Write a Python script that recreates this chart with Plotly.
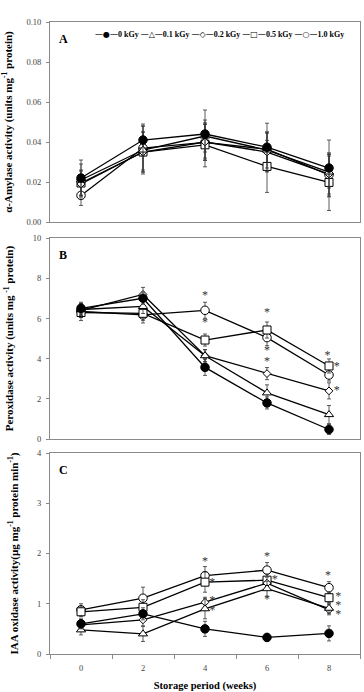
import plotly.graph_objects as go

weeks = [0, 2, 4, 6, 8]
doses = ["0 kGy", "0.1 kGy", "0.2 kGy", "0.5 kGy", "1.0 kGy"]
legend_glyphs = ["\u25cf", "\u25b3", "\u25c7", "\u25a1", "\u25cb"]

# Panel A: alpha-amylase activity
amylase_mean = [
    [0.022, 0.041, 0.044, 0.0374, 0.027],
    [0.021, 0.036, 0.043, 0.036, 0.025],
    [0.019, 0.035, 0.040, 0.035, 0.024],
    [0.0195, 0.035, 0.0386, 0.0278, 0.0198],
    [0.0133, 0.037, 0.0398, 0.0364, 0.0236],
]
amylase_err = [
    [0.009, 0.008, 0.012, 0.012, 0.014],
    [0.008, 0.012, 0.008, 0.009, 0.008],
    [0.007, 0.010, 0.009, 0.010, 0.010],
    [0.006, 0.010, 0.011, 0.013, 0.014],
    [0.005, 0.011, 0.009, 0.008, 0.011],
]

# Panel B: peroxidase activity
perox_mean = [
    [6.51, 7.01, 3.57, 1.80, 0.48],
    [6.45, 6.60, 4.15, 2.30, 1.22],
    [6.40, 7.20, 4.15, 3.26, 2.40],
    [6.30, 6.26, 4.93, 5.43, 3.64],
    [6.35, 6.18, 6.41, 5.05, 3.19],
]
perox_err = [
    [0.30, 0.30, 0.40, 0.30, 0.25],
    [0.30, 0.35, 0.30, 0.40, 0.45],
    [0.35, 0.35, 0.30, 0.30, 0.40],
    [0.40, 0.35, 0.30, 0.40, 0.35],
    [0.30, 0.40, 0.40, 0.40, 0.30],
]
perox_star_x = [4, 4, 6, 6, 6, 7.95, 8.25, 8.25]
perox_star_y = [7.14, 5.76, 6.26, 4.40, 3.85, 4.14, 3.60, 2.39]

# Panel C: IAA oxidase activity
iaa_mean = [
    [0.60, 0.80, 0.50, 0.33, 0.41],
    [0.48, 0.40, 0.90, 1.30, 0.91],
    [0.58, 0.68, 1.03, 1.41, 0.88],
    [0.84, 0.93, 1.43, 1.47, 1.12],
    [0.88, 1.11, 1.56, 1.67, 1.32],
]
iaa_err = [
    [0.10, 0.12, 0.15, 0.08, 0.15],
    [0.10, 0.15, 0.20, 0.15, 0.10],
    [0.10, 0.12, 0.10, 0.12, 0.10],
    [0.10, 0.15, 0.20, 0.12, 0.10],
    [0.12, 0.22, 0.18, 0.15, 0.12],
]
iaa_star_x = [4, 4.23, 4.23, 4.23, 6, 6.25, 6, 7.97, 8.3, 8.3, 8.3]
iaa_star_y = [1.84, 1.41, 1.05, 0.86, 1.94, 1.48, 1.08, 1.56, 1.14, 0.96, 0.78]

marker_symbols = ["circle", "triangle-up", "diamond", "square", "circle"]
marker_fills = ["black", "white", "white", "white", "white"]
marker_sizes = [8.5, 8, 6, 8, 8.5]

SERIF = "Liberation Serif"
fig = go.Figure()

panels = [
    ("x", "y", amylase_mean, amylase_err),
    ("x2", "y2", perox_mean, perox_err),
    ("x3", "y3", iaa_mean, iaa_err),
]

for xa, ya, means, errs in panels:
    for i in reversed(range(len(doses))):
        fig.add_trace(go.Scatter(
            x=weeks, y=means[i], xaxis=xa, yaxis=ya,
            mode="lines+markers", name=doses[i], showlegend=False,
            line=dict(color="black", width=1.3),
            marker=dict(symbol=marker_symbols[i], size=marker_sizes[i],
                        color=marker_fills[i], line=dict(color="black", width=1)),
            error_y=dict(type="data", array=errs[i], color="#333", thickness=0.8, width=2),
        ))

for xa, ya, sx, sy in [("x2", "y2", perox_star_x, perox_star_y), ("x3", "y3", iaa_star_x, iaa_star_y)]:
    fig.add_trace(go.Scatter(
        x=sx, y=sy, xaxis=xa, yaxis=ya, mode="text", text=["*"] * len(sx),
        textfont=dict(family=SERIF, size=12, color="#333"), showlegend=False,
        textposition="middle center", hoverinfo="skip",
    ))

axis_line = dict(showline=True, linecolor="#8a8a8a", linewidth=1, mirror=True,
                 showgrid=False, zeroline=False, automargin=False)
tickfont = dict(family=SERIF, size=8.5, color="#444")
titlefont = dict(family=SERIF, size=11, color="black")

common_x = dict(range=[-1, 9], **axis_line)
fig.update_layout(
    width=364, height=692,
    margin=dict(l=50, r=4, t=22, b=38, autoexpand=False),
    plot_bgcolor="white", paper_bgcolor="white",
    showlegend=False,
    xaxis=dict(domain=[0, 1], anchor="y", showticklabels=False, ticks="", **common_x),
    xaxis2=dict(domain=[0, 1], anchor="y2", showticklabels=False, ticks="", **common_x),
    xaxis3=dict(domain=[0, 1], anchor="y3", tickvals=weeks, ticks="", tickfont=tickfont,
                ticklabelstandoff=6,
                minor=dict(tickvals=[-1, 1, 3, 5, 7, 9], ticks="outside", ticklen=4,
                           tickcolor="#8a8a8a"),
                title=dict(text="<b>Storage period (weeks)</b>",
                           font=dict(family=SERIF, size=10.5, color="black"), standoff=18),
                **common_x),
    yaxis=dict(domain=[0.6835, 1], anchor="x", range=[0, 0.10], dtick=0.02, tickformat=".2f",
               ticks="outside", ticklen=3, tickcolor="#8a8a8a", tickfont=tickfont,
               ticklabelstandoff=3,
               title=dict(text="<b>\u03b1-Amylase activity (units mg<sup>-1</sup> protein)</b>",
                          font=titlefont, standoff=11), **axis_line),
    yaxis2=dict(domain=[0.340, 0.658], anchor="x2", range=[0, 10], dtick=2,
                ticks="outside", ticklen=3, tickcolor="#8a8a8a", tickfont=tickfont,
                ticklabelstandoff=3,
                title=dict(text="<b>Peroxidase activity (units mg <sup>-1</sup> protein)</b>",
                           font=titlefont, standoff=16), **axis_line),
    yaxis3=dict(domain=[0, 0.318], anchor="x3", range=[0, 4], dtick=1,
                ticks="outside", ticklen=3, tickcolor="#8a8a8a", tickfont=tickfont,
                ticklabelstandoff=3,
                title=dict(text="<b>IAA oxidase activity(\u00b5g mg<sup>-1</sup> protein min<sup>-1</sup>)</b>",
                           font=titlefont, standoff=16), **axis_line),
)

for label, xr, yr in [("A", "x domain", "y domain"), ("B", "x2 domain", "y2 domain"), ("C", "x3 domain", "y3 domain")]:
    fig.add_annotation(text="<b>%s</b>" % label, xref=xr, yref=yr, x=0.022, y=0.915,
                       xanchor="left", yanchor="middle", showarrow=False,
                       font=dict(family=SERIF, size=12, color="black"))

legend_parts = []
for g, d in zip(legend_glyphs, doses):
    legend_parts.append(
        '<span style="font-family:DejaVu Sans">\u2014%s\u2014</span><b>%s</b>' % (g, d))
fig.add_annotation(text=" ".join(legend_parts), xref="x domain", yref="y domain",
                   x=0.14, y=0.94, xanchor="left", yanchor="middle", showarrow=False,
                   font=dict(family=SERIF, size=8, color="black"))

fig.write_html("out.html")
